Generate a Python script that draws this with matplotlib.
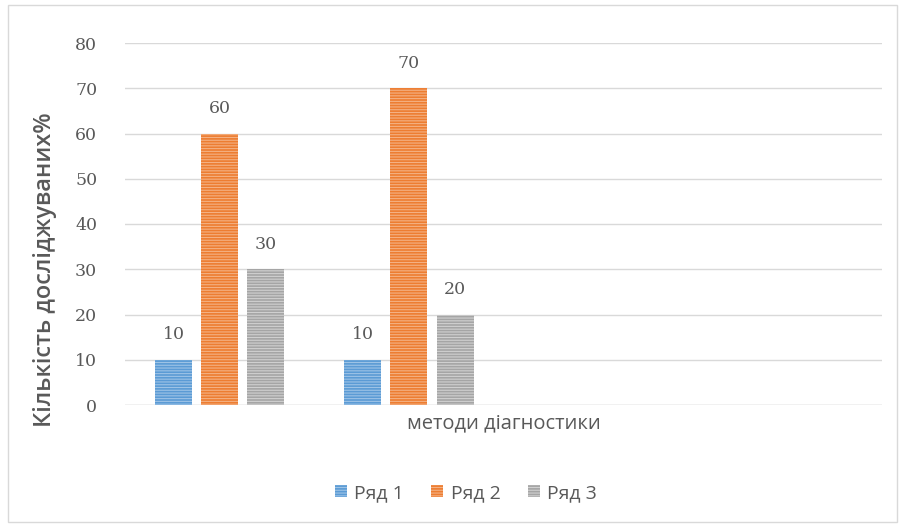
import matplotlib.pyplot as plt
from matplotlib.patches import Rectangle

categories = ["", "", "", ""]
series_names = ["Ряд 1", "Ряд 2", "Ряд 3"]
series_values = [
    [10, 10, None, None],
    [60, 70, None, None],
    [30, 20, None, None],
]
colors = ["#5B9BD5", "#ED7D31", "#A5A5A5"]
stripe_colors = ["#9DC3E6", "#F4B183", "#D0D0D0"]
y_ticks = [0, 10, 20, 30, 40, 50, 60, 70, 80]

text_gray = "#595959"
num_font = "DejaVu Serif"
plt.rcParams["hatch.linewidth"] = 0.8

fig = plt.figure(figsize=(9, 5.27), dpi=100)
ax = fig.add_axes([125 / 900, 1 - 405 / 527, 757 / 900, 362 / 527])

# thin frame around the whole chart
fig.patches.append(Rectangle((8 / 900, 5 / 527), 889 / 900, 517 / 527,
                             transform=fig.transFigure, fill=False,
                             edgecolor="#D9D9D9", linewidth=1))

bar_w = 0.196
gap = 0.048
offsets = [-(bar_w + gap), 0, bar_w + gap]
x = range(len(categories))

for i, name in enumerate(series_names):
    xs = [k + offsets[i] for k, v in zip(x, series_values[i]) if v is not None]
    vals = [v for v in series_values[i] if v is not None]
    bars = ax.bar(xs, vals, width=bar_w, color=colors[i],
                  edgecolor=stripe_colors[i], linewidth=0, hatch="------",
                  label=name, zorder=3)
    for b, v in zip(bars, vals):
        ax.annotate(str(v), (b.get_x() + b.get_width() / 2, v),
                    xytext=(0, 12), textcoords="offset points",
                    ha="center", va="bottom", fontsize=12.5,
                    family=num_font, color=text_gray)

ax.set_xlim(-0.5, len(categories) - 0.5)
ax.set_ylim(0, 80)
ax.set_yticks(y_ticks)
ax.set_yticklabels([str(t) for t in y_ticks], family=num_font,
                   fontsize=12.5, color=text_gray)
ax.set_xticks([])
ax.tick_params(axis="y", length=0, pad=20)
ax.grid(axis="y", color="#D9D9D9", linewidth=1, zorder=0)
for s in ax.spines.values():
    s.set_visible(False)
ax.axhline(0, color="#D9D9D9", linewidth=1, zorder=2)

ax.set_xlabel("методи діагностики", fontsize=14.5, color=text_gray,
              family="Open Sans", labelpad=6)
fig.text(45 / 900, 1 - 270 / 527, "Кількість досліджуваних%", rotation=90,
         ha="center", va="center", fontsize=17, color=text_gray,
         family="Open Sans", fontweight=600)

ax.legend(loc="center", bbox_to_anchor=(466 / 900, 1 - 493 / 527),
          bbox_transform=fig.transFigure, ncol=3, frameon=False,
          prop={"family": "Open Sans", "size": 14}, labelcolor=text_gray,
          handlelength=0.6, handleheight=0.6, handletextpad=0.4,
          columnspacing=1.4)

fig.savefig("out.png", dpi=100)
